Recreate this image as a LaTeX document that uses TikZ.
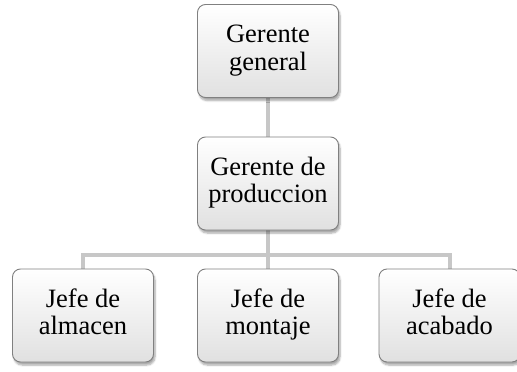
\documentclass[tikz,border=0pt]{standalone}
\usepackage{fontspec}
\setmainfont{Liberation Serif}
\usetikzlibrary{shadows.blur,backgrounds}
\begin{document}
\begin{tikzpicture}[x=1pt,y=-1pt,
  orgbox/.style={draw=black!50, line width=0.9pt, rounded corners=8pt,
    top color=white, bottom color=black!12,
    minimum width=141pt, minimum height=93pt, inner sep=0pt,
    align=center, font=\fontsize{26.5}{27.5}\selectfont,
    blur shadow={shadow xshift=1.5pt, shadow yshift=-3pt, shadow blur steps=6, shadow opacity=35}},
  link/.style={draw=black!22, line width=4pt}]
\useasboundingbox (0,0) rectangle (517,372);
% boxes of the chart (struts keep every two-line label at the same height)
\node[orgbox] (gg) at (268,51) {\strut Gerente\\\strut general};
\node[orgbox] (gp) at (268,183.5) {\strut Gerente de\\\strut produccion};
\node[orgbox] (ja) at (83,315.5) {\strut Jefe de\\\strut almacen};
\node[orgbox] (jm) at (268,315.5) {\strut Jefe de\\\strut montaje};
\node[orgbox] (jc) at (449.5,315.5) {\strut Jefe de\\\strut acabado};
% connectors, drawn behind the boxes
\coordinate (bar) at (268,255);
\begin{scope}[on background layer]
\path[link] (gg.south) -- (gp.north);
\path[link] (gp.south) -- (jm.north);
\path[link] (ja.north) |- (bar) -| (jc.north);
\end{scope}
\end{tikzpicture}
\end{document}
